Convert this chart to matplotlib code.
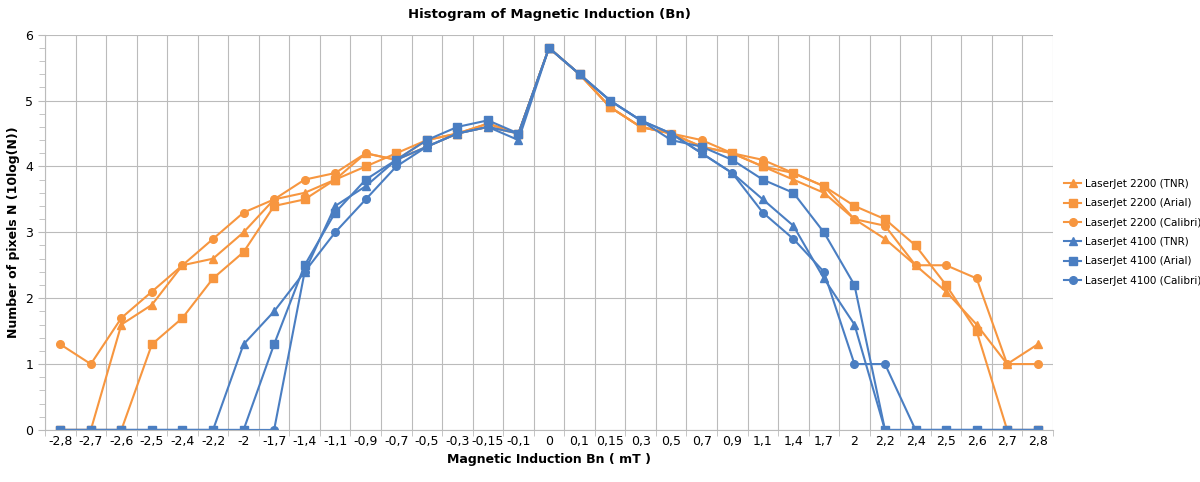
import matplotlib
matplotlib.use("Agg")
import matplotlib.pyplot as plt
from matplotlib.ticker import MultipleLocator

cats = ["-2,8","-2,7","-2,6","-2,5","-2,4","-2,2","-2","-1,7","-1,4","-1,1","-0,9","-0,7","-0,5","-0,3","-0,15","-0,1",
        "0","0,1","0,15","0,3","0,5","0,7","0,9","1,1","1,4","1,7","2","2,2","2,4","2,5","2,6","2,7","2,8"]

lj2200_tnr = [0,0,1.6,1.9,2.5,2.6,3.0,3.5,3.6,3.8,4.2,4.1,4.4,4.5,4.6,4.5,5.8,
              5.4,4.9,4.6,4.5,4.3,4.2,4.0,3.8,3.6,3.2,2.9,2.5,2.1,1.6,1.0,1.3]
lj2200_arial = [0,0,0,1.3,1.7,2.3,2.7,3.4,3.5,3.8,4.0,4.2,4.4,4.5,4.65,4.5,5.8,
                5.4,4.9,4.6,4.5,4.3,4.2,4.0,3.9,3.7,3.4,3.2,2.8,2.2,1.5,0,0]
lj2200_calibri = [1.3,1.0,1.7,2.1,2.5,2.9,3.3,3.5,3.8,3.9,4.2,4.1,4.3,4.5,4.65,4.5,5.8,
                  5.4,4.9,4.6,4.5,4.4,4.2,4.1,3.9,3.7,3.2,3.1,2.5,2.5,2.3,1.0,1.0]
lj4100_tnr = [0,0,0,0,0,0,1.3,1.8,2.4,3.4,3.7,4.1,4.3,4.5,4.6,4.4,5.8,
              5.4,5.0,4.7,4.5,4.2,3.9,3.5,3.1,2.3,1.6,0,0,0,0,0,0]
lj4100_arial = [0,0,0,0,0,0,0,1.3,2.5,3.3,3.8,4.1,4.4,4.6,4.7,4.5,5.8,
                5.4,5.0,4.7,4.4,4.3,4.1,3.8,3.6,3.0,2.2,0,0,0,0,0,0]
lj4100_calibri = [0,0,0,0,0,0,0,0,2.4,3.0,3.5,4.0,4.3,4.5,4.6,4.5,5.8,
                  5.4,5.0,4.7,4.5,4.2,3.9,3.3,2.9,2.4,1.0,1.0,0,0,0,0,0]

orange = "#F7963F"
blue = "#4A7EC2"
series = [
    ("LaserJet 2200 (TNR)", lj2200_tnr, orange, "^"),
    ("LaserJet 2200 (Arial)", lj2200_arial, orange, "s"),
    ("LaserJet 2200 (Calibri)", lj2200_calibri, orange, "o"),
    ("LaserJet 4100 (TNR)", lj4100_tnr, blue, "^"),
    ("LaserJet 4100 (Arial)", lj4100_arial, blue, "s"),
    ("LaserJet 4100 (Calibri)", lj4100_calibri, blue, "o"),
]

fig = plt.figure(figsize=(12, 4.82), dpi=100)
ax = fig.add_axes([0.0375, 0.108, 0.840, 0.820])
x = list(range(len(cats)))
for name, vals, c, m in series:
    ax.plot(x, vals, color=c, marker=m, markersize=5.5, linewidth=1.5, label=name)

ax.set_xlim(-0.5, len(cats) - 0.5)
ax.set_ylim(0, 6)
ax.set_xticks(x)
ax.set_xticklabels(cats, fontsize=9)
ax.set_xticks([i - 0.5 for i in range(len(cats) + 1)], minor=True)
ax.yaxis.set_major_locator(MultipleLocator(1))
ax.yaxis.set_minor_locator(MultipleLocator(0.2))
ax.tick_params(axis="x", which="major", length=0)
ax.tick_params(axis="x", which="minor", length=4, color="#BBBBBB")
ax.tick_params(axis="y", which="major", length=5, labelsize=9, color="#BBBBBB")
ax.tick_params(axis="y", which="minor", length=4, color="#BBBBBB")
ax.grid(True, which="major", axis="y", color="#BBBBBB", linewidth=0.8)
ax.grid(True, which="minor", axis="x", color="#BBBBBB", linewidth=0.8)
for s in ["top", "right"]:
    ax.spines[s].set_visible(False)
ax.spines["left"].set_color("#BBBBBB")
ax.spines["bottom"].set_color("#BBBBBB")
ax.set_axisbelow(True)

ax.set_title("Histogram of Magnetic Induction (Bn)", fontsize=9.5, fontweight="bold", pad=12)
ax.set_xlabel("Magnetic Induction Bn ( mT )", fontsize=9, fontweight="bold", labelpad=4)
ax.set_ylabel("Number of pixels N (10log(N))", fontsize=9, fontweight="bold")

ax.legend(loc="center left", bbox_to_anchor=(1.005, 0.5), frameon=False, fontsize=7.5,
          handlelength=1.6, handletextpad=0.4, labelspacing=0.9, borderaxespad=0.2)

fig.savefig("out.png", dpi=100)
